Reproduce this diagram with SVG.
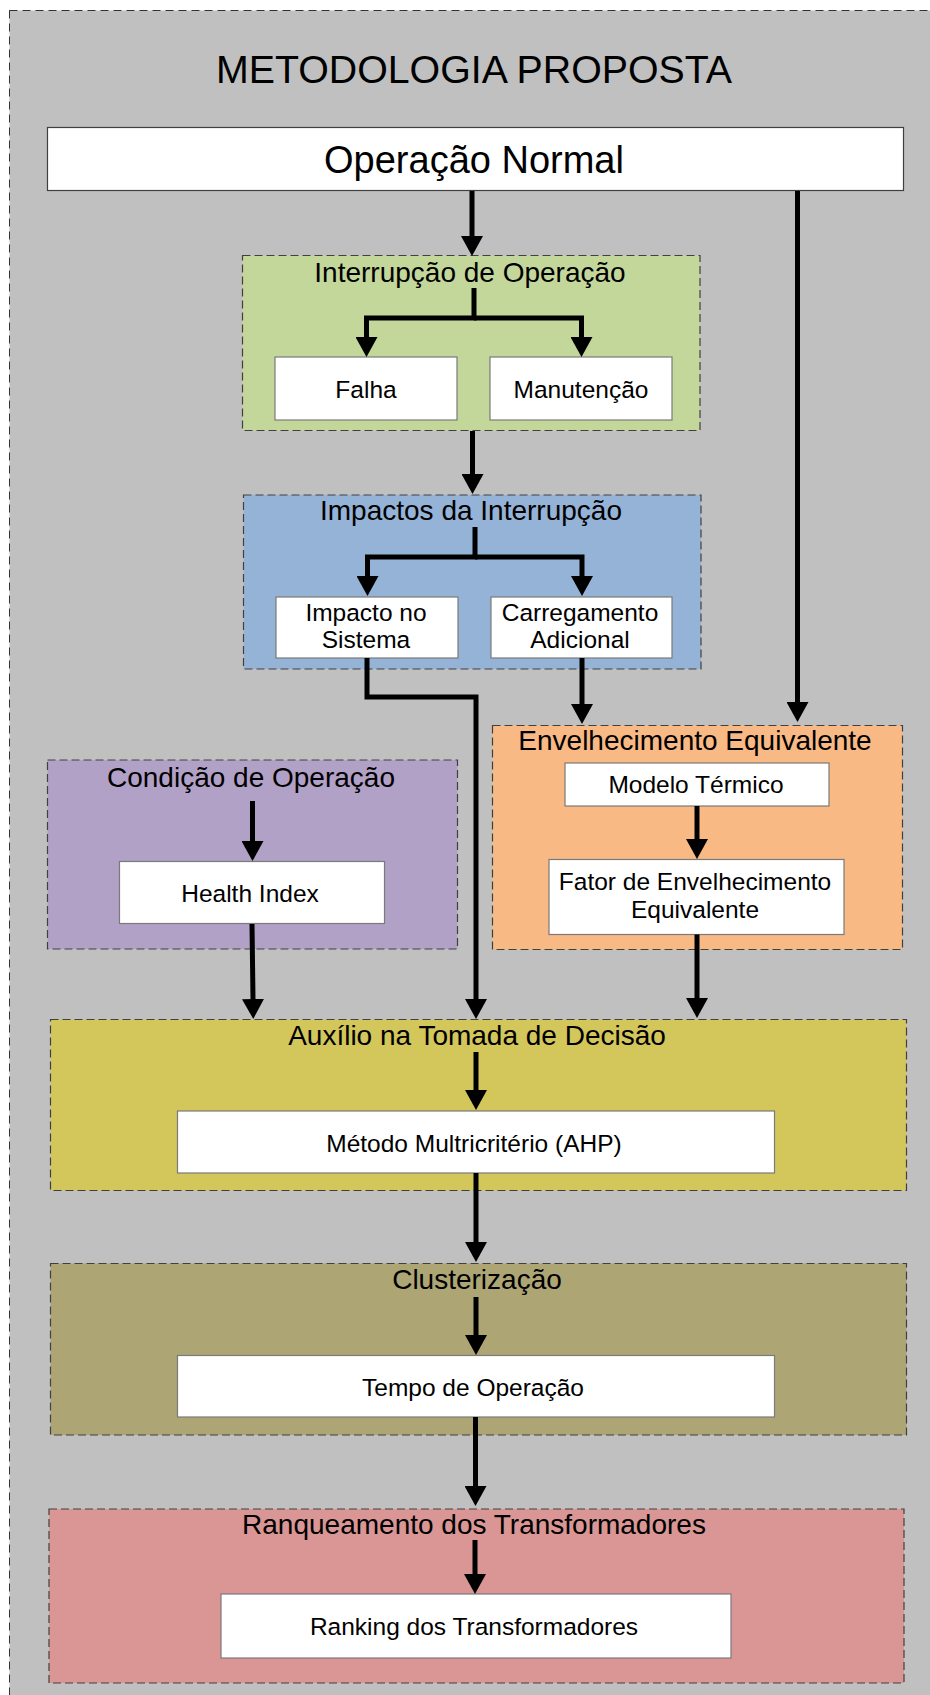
<svg xmlns="http://www.w3.org/2000/svg" width="930" height="1695" viewBox="0 0 930 1695">
  <style>
    text { font-family: "Liberation Sans", Arial, sans-serif; fill: #000; text-anchor: middle; }
    .main { font-size: 38px; }
    .head { font-size: 39.3px; }
    .ttl { font-size: 28px; }
    .lbl { font-size: 24.5px; }
    .grp { stroke: #404040; stroke-width: 1.2; stroke-dasharray: 8 4; }
    .box { fill: #fff; stroke: #7a7a7a; stroke-width: 1.2; }
    .conn { fill: none; stroke: #000; stroke-width: 5; stroke-linejoin: miter; }
  </style>
  <defs>
    <marker id="arrow" markerUnits="userSpaceOnUse" viewBox="0 0 20 22" markerWidth="20" markerHeight="22" refX="0" refY="11" orient="auto">
      <path d="M0,0 L20,11 L0,22 Z" fill="#000"/>
    </marker>
  </defs>

  <rect width="930" height="1695" fill="#fff"/>

  <!-- outer frame -->
  <g id="frame">
    <rect x="9.5" y="10.5" width="930" height="1700" fill="#c0c0c0" stroke="#333" stroke-width="1" stroke-dasharray="8 5"/>
    <text class="head" x="474" y="83">METODOLOGIA PROPOSTA</text>
  </g>

  <g id="operacao-normal">
    <rect x="47.5" y="127.5" width="856" height="63" fill="#fff" stroke="#404040" stroke-width="1.2"/>
    <text class="main" x="474" y="173">Operação Normal</text>
  </g>

  <g id="interrupcao">
    <rect class="grp" x="242.5" y="255.5" width="457.5" height="175" fill="#c4d79b"/>
    <text class="ttl" x="470" y="281.5">Interrupção de Operação</text>
  </g>
  <g id="falha">
    <rect class="box" x="275" y="357" width="182" height="63"/>
    <text class="lbl" x="366" y="397.5">Falha</text>
  </g>
  <g id="manutencao">
    <rect class="box" x="490" y="357" width="182" height="63"/>
    <text class="lbl" x="581" y="397.5">Manutenção</text>
  </g>

  <g id="impactos">
    <rect class="grp" x="243.5" y="495" width="457.5" height="174" fill="#95b3d7"/>
    <text class="ttl" x="471" y="520">Impactos da Interrupção</text>
  </g>
  <g id="impacto-sistema">
    <rect class="box" x="276" y="597" width="182" height="61"/>
    <text class="lbl" x="366" y="621">Impacto no</text>
    <text class="lbl" x="366" y="648">Sistema</text>
  </g>
  <g id="carregamento">
    <rect class="box" x="491" y="597" width="181" height="61"/>
    <text class="lbl" x="580" y="621">Carregamento</text>
    <text class="lbl" x="580" y="648">Adicional</text>
  </g>

  <g id="condicao">
    <rect class="grp" x="47.5" y="760" width="410" height="189" fill="#b2a1c7"/>
    <text class="ttl" x="251" y="786.5">Condição de Operação</text>
  </g>
  <g id="health-index">
    <rect class="box" x="119.5" y="861.5" width="265" height="62"/>
    <text class="lbl" x="250" y="902">Health Index</text>
  </g>

  <g id="envelhecimento">
    <rect class="grp" x="492.5" y="725.5" width="410" height="224" fill="#f9b985"/>
    <text class="ttl" x="695" y="750">Envelhecimento Equivalente</text>
  </g>
  <g id="modelo-termico">
    <rect class="box" x="565" y="763" width="264" height="43"/>
    <text class="lbl" x="696" y="793">Modelo Térmico</text>
  </g>
  <g id="fator-envelhecimento">
    <rect class="box" x="549" y="859.5" width="295" height="75"/>
    <text class="lbl" x="695" y="890">Fator de Envelhecimento</text>
    <text class="lbl" x="695" y="917.5">Equivalente</text>
  </g>

  <g id="auxilio-decisao">
    <rect class="grp" x="50.5" y="1019.5" width="856" height="171" fill="#d3c65b"/>
    <text class="ttl" x="477" y="1045">Auxílio na Tomada de Decisão</text>
  </g>
  <g id="metodo-ahp">
    <rect class="box" x="177.5" y="1111" width="597" height="62" stroke="#555"/>
    <text class="lbl" x="474" y="1151.5">Método Multricritério (AHP)</text>
  </g>

  <g id="clusterizacao">
    <rect class="grp" x="50.5" y="1263.5" width="856" height="171.5" fill="#aea575"/>
    <text class="ttl" x="477" y="1289">Clusterização</text>
  </g>
  <g id="tempo-operacao">
    <rect class="box" x="177.5" y="1355.5" width="597" height="61.5" stroke="#333"/>
    <text class="lbl" x="473" y="1396">Tempo de Operação</text>
  </g>

  <g id="ranqueamento">
    <rect class="grp" x="49" y="1509" width="855" height="174" fill="#d99694"/>
    <text class="ttl" x="474" y="1534">Ranqueamento dos Transformadores</text>
  </g>
  <g id="ranking">
    <rect class="box" x="221" y="1594" width="510" height="64" stroke="#444"/>
    <text class="lbl" x="474" y="1635">Ranking dos Transformadores</text>
  </g>

  <!-- connectors -->
  <g id="connectors">
    <path class="conn" d="M472 191 V236" marker-end="url(#arrow)"/>
    <path class="conn" d="M797.5 191 V702" marker-end="url(#arrow)"/>
    <path class="conn" d="M474 288 V318 H366.5 V337" marker-end="url(#arrow)"/>
    <path class="conn" d="M474 318 H581.5 V337" marker-end="url(#arrow)"/>
    <path class="conn" d="M472.5 431 V474" marker-end="url(#arrow)"/>
    <path class="conn" d="M475 527 V557 H367.5 V576" marker-end="url(#arrow)"/>
    <path class="conn" d="M475 557 H582 V576" marker-end="url(#arrow)"/>
    <path class="conn" d="M367 658 V697 H476 V999" marker-end="url(#arrow)"/>
    <path class="conn" d="M582 658 V704" marker-end="url(#arrow)"/>
    <path class="conn" d="M252.5 801 V841" marker-end="url(#arrow)"/>
    <path class="conn" d="M252 924 L253 999" marker-end="url(#arrow)"/>
    <path class="conn" d="M697 806 V839" marker-end="url(#arrow)"/>
    <path class="conn" d="M697 934.5 V998" marker-end="url(#arrow)"/>
    <path class="conn" d="M476 1052 V1090" marker-end="url(#arrow)"/>
    <path class="conn" d="M476 1173 V1242" marker-end="url(#arrow)"/>
    <path class="conn" d="M476 1297 V1335" marker-end="url(#arrow)"/>
    <path class="conn" d="M475.5 1417 V1486" marker-end="url(#arrow)"/>
    <path class="conn" d="M475 1540 V1574" marker-end="url(#arrow)"/>
  </g>
</svg>
